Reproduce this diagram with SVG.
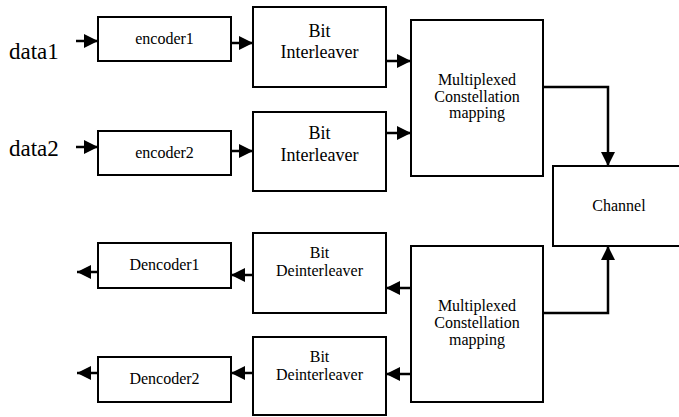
<svg xmlns="http://www.w3.org/2000/svg" width="679" height="417" viewBox="0 0 679 417">
  <defs>
    <marker id="head" viewBox="0 0 10 10" refX="10" refY="5" markerUnits="userSpaceOnUse" markerWidth="16" markerHeight="14" orient="auto">
      <path d="M0,0 L10,5 L0,10 Z" fill="#000"/>
    </marker>
  </defs>

  <rect width="679" height="417" fill="#fff"/>

  <text font-family="Liberation Serif, Times New Roman, serif" font-size="23" fill="#000" x="9" y="59">data1</text>
  <text font-family="Liberation Serif, Times New Roman, serif" font-size="23" fill="#000" x="9" y="156">data2</text>

  <!-- signal paths -->
  <g id="connectors" fill="none" stroke="#000" stroke-width="2.5" marker-end="url(#head)">
    <path d="M76,41 L98,41"/>
    <path d="M76,147 L98,147"/>
    <path d="M231,43 L253,43"/>
    <path d="M231,151 L253,151"/>
    <path d="M386,61 L411,61"/>
    <path d="M386,133 L411,133"/>
    <path d="M543,87 L608,87 L608,166"/>
    <path d="M543,313 L608,313 L608,246"/>
    <path d="M411,288 L386,288"/>
    <path d="M411,374 L386,374"/>
    <path d="M253,275 L231,275"/>
    <path d="M253,373 L231,373"/>
    <path d="M98,272 L77,272"/>
    <path d="M98,373 L77,373"/>
  </g>

  <!-- processing blocks -->
  <g id="encoder1">
    <rect x="98" y="17" width="133" height="44" fill="#fff" stroke="#000" stroke-width="2"/>
    <text font-family="Liberation Serif, Times New Roman, serif" font-size="16" text-anchor="middle" x="164.5" y="44">encoder1</text>
  </g>
  <g id="encoder2">
    <rect x="98" y="131" width="133" height="44" fill="#fff" stroke="#000" stroke-width="2"/>
    <text font-family="Liberation Serif, Times New Roman, serif" font-size="16" text-anchor="middle" x="164.5" y="158">encoder2</text>
  </g>
  <g id="interleaver1">
    <rect x="253" y="7" width="133" height="80" fill="#fff" stroke="#000" stroke-width="2"/>
    <text font-family="Liberation Serif, Times New Roman, serif" font-size="18" text-anchor="middle" x="319.5" y="37">Bit</text>
    <text font-family="Liberation Serif, Times New Roman, serif" font-size="18" text-anchor="middle" x="319.5" y="58">Interleaver</text>
  </g>
  <g id="interleaver2">
    <rect x="253" y="112" width="133" height="79" fill="#fff" stroke="#000" stroke-width="2"/>
    <text font-family="Liberation Serif, Times New Roman, serif" font-size="18" text-anchor="middle" x="319.5" y="139">Bit</text>
    <text font-family="Liberation Serif, Times New Roman, serif" font-size="18" text-anchor="middle" x="319.5" y="161">Interleaver</text>
  </g>
  <g id="mapper-tx">
    <rect x="411" y="20" width="132" height="156" fill="#fff" stroke="#000" stroke-width="2"/>
    <text font-family="Liberation Serif, Times New Roman, serif" font-size="16" text-anchor="middle" x="477" y="85">Multiplexed</text>
    <text font-family="Liberation Serif, Times New Roman, serif" font-size="16" text-anchor="middle" x="477" y="102">Constellation</text>
    <text font-family="Liberation Serif, Times New Roman, serif" font-size="16" text-anchor="middle" x="477" y="118">mapping</text>
  </g>
  <g id="channel">
    <rect x="553" y="166" width="140" height="80" fill="#fff" stroke="#000" stroke-width="2"/>
    <text font-family="Liberation Serif, Times New Roman, serif" font-size="16" text-anchor="middle" x="619" y="211">Channel</text>
  </g>
  <g id="mapper-rx">
    <rect x="411" y="246" width="132" height="156" fill="#fff" stroke="#000" stroke-width="2"/>
    <text font-family="Liberation Serif, Times New Roman, serif" font-size="16" text-anchor="middle" x="477" y="311">Multiplexed</text>
    <text font-family="Liberation Serif, Times New Roman, serif" font-size="16" text-anchor="middle" x="477" y="328">Constellation</text>
    <text font-family="Liberation Serif, Times New Roman, serif" font-size="16" text-anchor="middle" x="477" y="345">mapping</text>
  </g>
  <g id="deinterleaver1">
    <rect x="253" y="233" width="133" height="80" fill="#fff" stroke="#000" stroke-width="2"/>
    <text font-family="Liberation Serif, Times New Roman, serif" font-size="16" text-anchor="middle" x="319.5" y="258">Bit</text>
    <text font-family="Liberation Serif, Times New Roman, serif" font-size="16" text-anchor="middle" x="319.5" y="276">Deinterleaver</text>
  </g>
  <g id="deinterleaver2">
    <rect x="253" y="337" width="133" height="78" fill="#fff" stroke="#000" stroke-width="2"/>
    <text font-family="Liberation Serif, Times New Roman, serif" font-size="16" text-anchor="middle" x="319.5" y="362">Bit</text>
    <text font-family="Liberation Serif, Times New Roman, serif" font-size="16" text-anchor="middle" x="319.5" y="380">Deinterleaver</text>
  </g>
  <g id="decoder1">
    <rect x="98" y="243" width="133" height="45" fill="#fff" stroke="#000" stroke-width="2"/>
    <text font-family="Liberation Serif, Times New Roman, serif" font-size="16" text-anchor="middle" x="164.5" y="270">Dencoder1</text>
  </g>
  <g id="decoder2">
    <rect x="98" y="357" width="133" height="45" fill="#fff" stroke="#000" stroke-width="2"/>
    <text font-family="Liberation Serif, Times New Roman, serif" font-size="16" text-anchor="middle" x="164.5" y="384">Dencoder2</text>
  </g>
</svg>
